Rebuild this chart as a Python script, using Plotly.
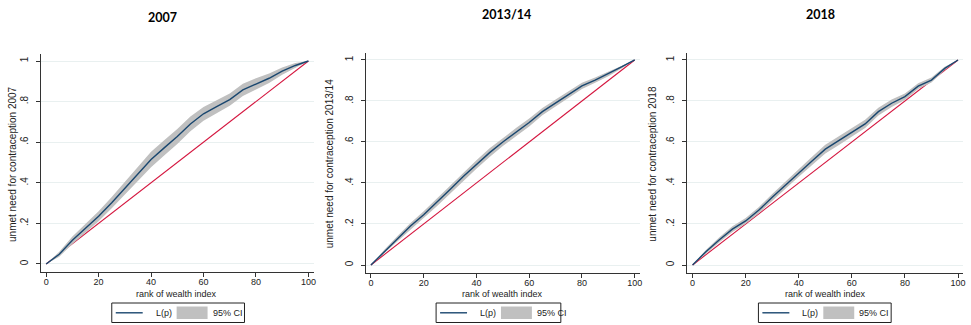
import plotly.graph_objects as go

# Concentration curves of unmet need for contraception by wealth rank
W, H = 971, 325

rank = [0, 5, 10, 15, 20, 25, 30, 35, 40, 45, 50, 55, 60, 65, 70, 75, 80, 85, 90, 95, 100]
equality_x = [0, 100]
equality_y = [0, 1]

titles = ["2007", "2013/14", "2018"]
y_titles = ["unmet need for contraception 2007",
            "unmet need for contraception 2013/14",
            "unmet need for contraception 2018"]
x_title = "rank of wealth index"
x_tick_vals = [0, 20, 40, 60, 80, 100]
y_tick_vals = [0, 0.2, 0.4, 0.6, 0.8, 1]
y_tick_text = ["0", ".2", ".4", ".6", ".8", "1"]
legend_labels = ["L(p)", "95% CI"]

lp_2007 = [0, .048, .117, .176, .235, .302, .373, .447, .515, .572, .628, .690, .740,
           .775, .810, .858, .888, .915, .950, .978, 1.0]
lo_2007 = [0, .036, .099, .154, .210, .274, .341, .411, .477, .534, .591, .654, .706,
           .743, .780, .828, .861, .892, .932, .966, 1.0]
hi_2007 = [0, .060, .135, .198, .260, .330, .405, .483, .553, .610, .665, .726, .774,
           .807, .840, .888, .915, .938, .968, .990, 1.0]

lp_2014 = [0, .065, .128, .190, .245, .305, .368, .432, .490, .548, .600, .648, .695,
           .748, .790, .832, .874, .902, .932, .966, 1.0]
lo_2014 = [0, .057, .116, .175, .228, .286, .348, .411, .469, .527, .580, .628, .676,
           .730, .773, .816, .859, .889, .921, .959, 1.0]
hi_2014 = [0, .073, .140, .205, .262, .324, .388, .453, .511, .569, .620, .668, .714,
           .766, .807, .848, .889, .915, .943, .973, 1.0]

lp_2018 = [0, .065, .122, .175, .215, .268, .330, .390, .450, .507, .565, .605, .645,
           .688, .748, .789, .821, .872, .902, .959, 1.0]
lo_2018 = [0, .057, .110, .161, .201, .253, .314, .372, .430, .486, .544, .584, .625,
           .668, .729, .771, .805, .858, .890, .951, 1.0]
hi_2018 = [0, .073, .134, .189, .229, .283, .346, .408, .470, .528, .586, .626, .665,
           .708, .767, .807, .837, .886, .914, .967, 1.0]

series = [(lp_2007, lo_2007, hi_2007), (lp_2014, lo_2014, hi_2014), (lp_2018, lo_2018, hi_2018)]

NAVY = "#1a476f"
RED = "#d4163f"
BAND = "#c0c0c0"
GRID = "#e9f0f0"
AXIS = "#333333"
FONT = "Liberation Sans, Arial, sans-serif"

# panel geometry in pixels: plot-area left/right/top/bottom
panels = [
    dict(l=41.0, r=314.3, t=53.9, b=272.1, title_x=163, title_y=18, ytitle_x=12,
         xtitle_x=177, leg=(112, 245)),
    dict(l=366.4, r=641.3, t=52.8, b=273.2, title_x=508, title_y=14, ytitle_x=330,
         xtitle_x=504, leg=(437, 562)),
    dict(l=688.7, r=965.3, t=52.8, b=273.2, title_x=822, title_y=14, ytitle_x=653,
         xtitle_x=827, leg=(760, 893)),
]


def px(x):
    return x / W


def py(y):
    return 1 - y / H


fig = go.Figure()
layout = dict(width=W, height=H, margin=dict(l=0, r=0, t=0, b=0),
              paper_bgcolor="white", plot_bgcolor="white", showlegend=False,
              font=dict(family=FONT, size=9, color="#222222"))
annotations = []
shapes = []

for i, (p, (lp, lo, hi)) in enumerate(zip(panels, series)):
    n = "" if i == 0 else str(i + 1)
    xa, ya = "x" + n, "y" + n

    fig.add_trace(go.Scatter(x=equality_x, y=equality_y, mode="lines",
                             line=dict(color=RED, width=1.1), xaxis=xa, yaxis=ya,
                             hoverinfo="skip"))
    fig.add_trace(go.Scatter(x=rank, y=lo, mode="lines", line=dict(width=0),
                             xaxis=xa, yaxis=ya, hoverinfo="skip"))
    fig.add_trace(go.Scatter(x=rank, y=hi, mode="lines", line=dict(width=0),
                             fill="tonexty", fillcolor=BAND, xaxis=xa, yaxis=ya,
                             name=legend_labels[1]))
    fig.add_trace(go.Scatter(x=rank, y=lp, mode="lines",
                             line=dict(color=NAVY, width=1.4), xaxis=xa, yaxis=ya,
                             name=legend_labels[0]))

    layout["xaxis" + n] = dict(
        domain=[px(p["l"]), px(p["r"])], anchor=ya, range=[-2, 102],
        tickvals=x_tick_vals, ticks="outside", ticklen=4, tickcolor=AXIS,
        showline=True, linecolor=AXIS, linewidth=1, showgrid=False, zeroline=False,
        ticklabelstandoff=-3, tickfont=dict(size=9, family=FONT))
    layout["yaxis" + n] = dict(
        domain=[py(p["b"]), py(p["t"])], anchor=xa, range=[-0.04, 1.035],
        tickvals=y_tick_vals, ticktext=y_tick_text, tickangle=-90,
        ticks="outside", ticklen=4, tickcolor=AXIS,
        showline=True, linecolor=AXIS, linewidth=1,
        showgrid=True, gridcolor=GRID, gridwidth=1, zeroline=False,
        ticklabelstandoff=4, tickfont=dict(size=10, family=FONT))

    annotations.append(dict(text="<b>%s</b>" % titles[i], x=px(p["title_x"]), y=py(p["title_y"]),
                            xref="paper", yref="paper", showarrow=False,
                            xanchor="center", yanchor="middle",
                            font=dict(family="Lato, Open Sans, sans-serif", size=12.5, color="black")))
    annotations.append(dict(text=y_titles[i], x=px(p["ytitle_x"]), y=py((p["t"] + p["b"]) / 2 + 1),
                            xref="paper", yref="paper", showarrow=False, textangle=-90,
                            xanchor="center", yanchor="middle",
                            font=dict(family=FONT, size=10)))
    annotations.append(dict(text=x_title, x=px(p["xtitle_x"]), y=py(293.5),
                            xref="paper", yref="paper", showarrow=False,
                            xanchor="center", yanchor="middle", font=dict(size=9)))

    # legend key box
    l0, l1 = p["leg"]
    shapes.append(dict(type="rect", xref="paper", yref="paper",
                       x0=px(l0), x1=px(l1), y0=py(322.5), y1=py(303),
                       line=dict(color="#222222", width=1), fillcolor="white"))
    shapes.append(dict(type="line", xref="paper", yref="paper",
                       x0=px(l0 + 4), x1=px(l0 + 31), y0=py(312.8), y1=py(312.8),
                       line=dict(color=NAVY, width=1.4)))
    shapes.append(dict(type="rect", xref="paper", yref="paper",
                       x0=px(l0 + 65), x1=px(l0 + 96), y0=py(319), y1=py(306.5),
                       line=dict(width=0), fillcolor=BAND))
    annotations.append(dict(text=legend_labels[0], x=px(l0 + 42), y=py(312.8),
                            xref="paper", yref="paper", showarrow=False,
                            xanchor="left", yanchor="middle", font=dict(size=9)))
    annotations.append(dict(text=legend_labels[1], x=px(l0 + 99), y=py(312.8),
                            xref="paper", yref="paper", showarrow=False,
                            xanchor="left", yanchor="middle", font=dict(size=9)))

layout["annotations"] = annotations
layout["shapes"] = shapes
fig.update_layout(**layout)
fig.write_html("out.html")
